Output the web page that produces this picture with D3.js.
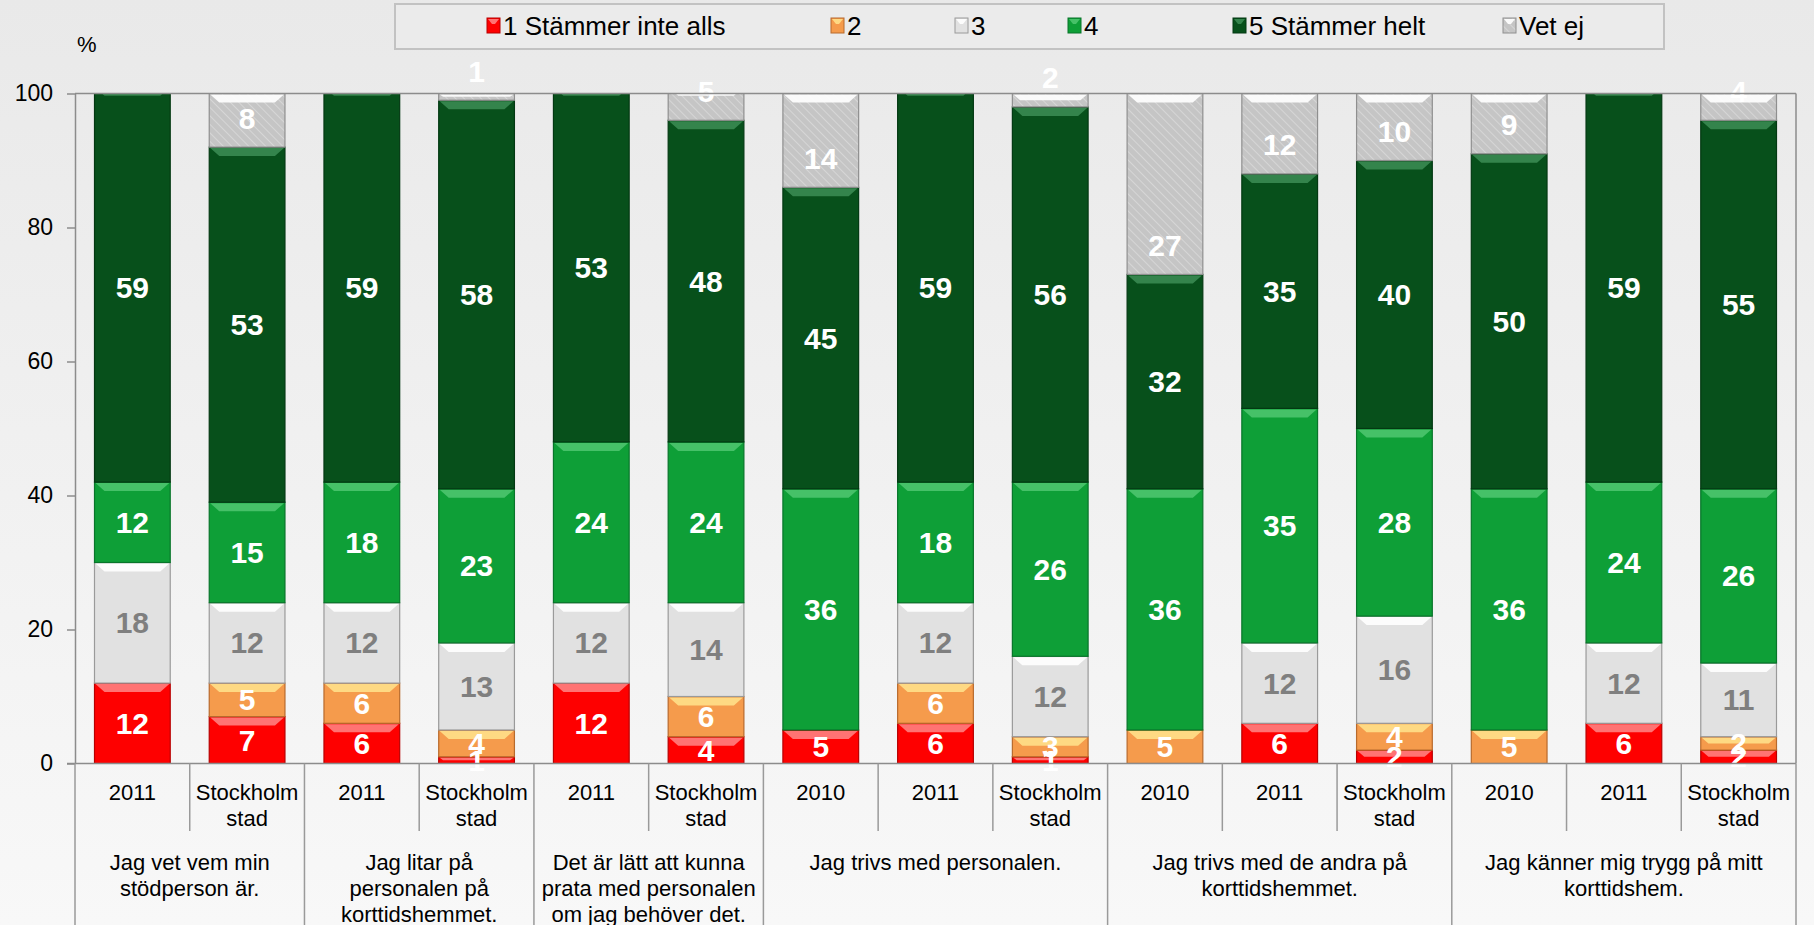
<!DOCTYPE html>
<html>
<head>
<meta charset="utf-8">
<script src="https://cdn.jsdelivr.net/npm/d3@7/dist/d3.min.js"></script>
<style>
  html, body { margin: 0; padding: 0; background: #f2f2f2; }
  svg { display: block; font-family: "Liberation Sans", Arial, sans-serif; }
</style>
</head>
<body>
<svg id="chart" width="1814" height="925"></svg>
<script>
// ---- DATA ----
const categories = ["2011", "Stockholm stad", "2011", "Stockholm stad", "2011", "Stockholm stad",
  "2010", "2011", "Stockholm stad", "2010", "2011", "Stockholm stad", "2010", "2011", "Stockholm stad"];
const groupLabels = [
  ["Jag vet vem min", "stödperson är."],
  ["Jag litar på", "personalen på", "korttidshemmet."],
  ["Det är lätt att kunna", "prata med personalen", "om jag behöver det."],
  ["Jag trivs med personalen."],
  ["Jag trivs med de andra på", "korttidshemmet."],
  ["Jag känner mig trygg på mitt", "korttidshem."]
];
const groupSizes = [2, 2, 2, 3, 3, 3];
const seriesNames = ["1 Stämmer inte alls", "2", "3", "4", "5 Stämmer helt", "Vet ej"];
const s1 = [12, 7, 6, 1, 12, 4, 5, 6, 1, 0, 6, 2, 0, 6, 2];
const s2 = [0, 5, 6, 4, 0, 6, 0, 6, 3, 5, 0, 4, 5, 0, 2];
const s3 = [18, 12, 12, 13, 12, 14, 0, 12, 12, 0, 12, 16, 0, 12, 11];
const s4 = [12, 15, 18, 23, 24, 24, 36, 18, 26, 36, 35, 28, 36, 24, 26];
const s5 = [59, 53, 59, 58, 53, 48, 45, 59, 56, 32, 35, 40, 50, 59, 55];
const s6 = [0, 8, 0, 1, 0, 5, 14, 0, 2, 27, 12, 10, 9, 0, 4];
const yTicks = [0, 20, 40, 60, 80, 100];

// ---- STYLE ----
const styles = [
  { fill: "#fe0000", top: "#ff8080", stroke: "#b80000", label: "#ffffff" },
  { fill: "#f59b4c", top: "#ffe08a", stroke: "#b86a2c", label: "#ffffff" },
  { fill: "#e1e1e1", top: "#ffffff", stroke: "#9a9a9a", label: "#7f7f7f" },
  { fill: "#0e9f37", top: "#4cc46e", stroke: "#08752a", label: "#ffffff" },
  { fill: "#07501b", top: "#3a8a52", stroke: "#033812", label: "#ffffff" },
  { fill: "url(#hatch)", top: "#ffffff", stroke: "#8f8f8f", label: "#ffffff" }
];

const W = 1814, H = 925;
const svg = d3.select("#chart");
const defs = svg.append("defs");

const bg = defs.append("linearGradient").attr("id", "bg").attr("x1", 0).attr("y1", 0).attr("x2", 0).attr("y2", 1);
bg.append("stop").attr("offset", "0%").attr("stop-color", "#e9e9e9");
bg.append("stop").attr("offset", "100%").attr("stop-color", "#f8f8f8");
svg.append("rect").attr("width", W).attr("height", H).attr("fill", "url(#bg)");

const pat = defs.append("pattern").attr("id", "hatch").attr("patternUnits", "userSpaceOnUse")
  .attr("width", 6).attr("height", 6).attr("patternTransform", "rotate(-45)");
pat.append("rect").attr("width", 6).attr("height", 6).attr("fill", "#c5c5c5");
pat.append("line").attr("x1", 0).attr("y1", 0).attr("x2", 0).attr("y2", 6)
  .attr("stroke", "#d6d6d6").attr("stroke-width", 2);

// ---- SCALES ----
const left = 75, right = 1796, y0px = 763.5, y100px = 93.5;
const x = d3.scaleBand().domain(d3.range(categories.length)).range([left, right])
  .paddingInner(0.34).paddingOuter(0.17);
const y = d3.scaleLinear().domain([0, 100]).range([y0px, y100px]);
const step = x.step();

const rows = categories.map((c, i) => ({ i, v: [s1[i], s2[i], s3[i], s4[i], s5[i], s6[i]] }));
const stack = d3.stack().keys(d3.range(6)).value((d, k) => d.v[k]);
const stacked = stack(rows);

defs.append("clipPath").attr("id", "plotclip").append("rect")
  .attr("x", left).attr("y", y(100)).attr("width", right - left).attr("height", y(0) - y(100));

// ---- BARS ----
const barsG = svg.append("g").attr("clip-path", "url(#plotclip)");
const labels = [];
stacked.forEach((layer, k) => {
  const st = styles[k];
  layer.forEach((seg, i) => {
    const val = seg.data.v[k];
    if (val <= 0) return;
    const x0 = x(i), w = x.bandwidth();
    const yt = y(seg[1]), yb = y(seg[0]);
    const h = yb - yt;
    const g = barsG.append("g");
    g.append("rect").attr("x", x0).attr("y", yt).attr("width", w).attr("height", h)
      .attr("fill", st.fill).attr("stroke", st.stroke).attr("stroke-width", 1.2);
    const b = Math.min(9, h / 2);
    g.append("polygon")
      .attr("points", [[x0 + 1, yt + 1], [x0 + w - 1, yt + 1], [x0 + w - 1 - b, yt + b], [x0 + 1 + b, yt + b]].map(p => p.join(",")).join(" "))
      .attr("fill", st.top).attr("opacity", 0.9);
    // "Vet ej" labels sit at the inside base of their segment, others at the visible centre
    const ly = k === 5 ? yb - 29 : (y(Math.min(seg[1], 100)) + yb) / 2;
    labels.push({ x: x0 + w / 2, y: ly, text: val, color: st.label });
  });
});

// labels (not clipped)
svg.append("g").selectAll("text").data(labels).join("text")
  .attr("x", d => d.x).attr("y", d => d.y)
  .attr("text-anchor", "middle").attr("dominant-baseline", "central")
  .attr("font-size", 30).attr("font-weight", "bold")
  .attr("fill", d => d.color).text(d => d.text);

// ---- FRAME ----
svg.append("line").attr("x1", left).attr("x2", right).attr("y1", y(100)).attr("y2", y(100))
  .attr("stroke", "#8c8c8c").attr("stroke-width", 1.5);
svg.append("line").attr("x1", right).attr("x2", right).attr("y1", y(100)).attr("y2", y(0))
  .attr("stroke", "#8c8c8c").attr("stroke-width", 1.5);

// ---- Y AXIS ----
const yAxis = svg.append("g").attr("transform", `translate(${left},0)`)
  .call(d3.axisLeft(y).tickValues(yTicks).tickSize(8).tickPadding(14).tickSizeOuter(0));
yAxis.select(".domain").attr("stroke", "#8c8c8c").attr("stroke-width", 1.5);
yAxis.selectAll(".tick line").attr("stroke", "#8c8c8c").attr("stroke-width", 1.5);
yAxis.selectAll(".tick text").attr("font-size", 23).attr("fill", "#000")
  .attr("font-family", "Liberation Sans, Arial, sans-serif");

svg.append("text").attr("x", 77).attr("y", 44).attr("font-size", 22).attr("dominant-baseline", "central")
  .attr("fill", "#000").text("%");

// ---- X AXIS (two-level) ----
svg.append("line").attr("x1", left - 8).attr("x2", right).attr("y1", y(0)).attr("y2", y(0))
  .attr("stroke", "#8c8c8c").attr("stroke-width", 1.5);

const groupBounds = [0];
groupSizes.forEach(s => groupBounds.push(groupBounds[groupBounds.length - 1] + s));
const sepG = svg.append("g");
for (let i = 0; i <= categories.length; i++) {
  const xx = left + i * step;
  const long = groupBounds.includes(i);
  sepG.append("line").attr("x1", xx).attr("x2", xx).attr("y1", y(0))
    .attr("y2", long ? H : 831).attr("stroke", "#9a9a9a").attr("stroke-width", 1.5);
}

const catG = svg.append("g");
categories.forEach((c, i) => {
  const cx = x(i) + x.bandwidth() / 2;
  const lines = c.split(" ");
  lines.forEach((ln, j) => {
    catG.append("text").attr("x", cx).attr("y", 792 + j * 26.5)
      .attr("text-anchor", "middle").attr("dominant-baseline", "central")
      .attr("font-size", 22).attr("fill", "#000").text(ln);
  });
});

const grpG = svg.append("g");
groupLabels.forEach((lines, gi) => {
  const cx = left + (groupBounds[gi] + groupBounds[gi + 1]) / 2 * step;
  lines.forEach((ln, j) => {
    grpG.append("text").attr("x", cx).attr("y", 862 + j * 26)
      .attr("text-anchor", "middle").attr("dominant-baseline", "central")
      .attr("font-size", 22).attr("fill", "#000").text(ln);
  });
});

// ---- LEGEND ----
const leg = svg.append("g");
leg.append("rect").attr("x", 395).attr("y", 4).attr("width", 1269).attr("height", 45)
  .attr("fill", "#ebebeb").attr("stroke", "#c2c2c2").attr("stroke-width", 2);
const legX = [487, 831, 955, 1068, 1233, 1503];
seriesNames.forEach((name, k) => {
  const st = styles[k];
  const gx = legX[k];
  leg.append("rect").attr("x", gx).attr("y", 18).attr("width", 13).attr("height", 15)
    .attr("fill", st.fill).attr("stroke", st.stroke).attr("stroke-width", 1);
  leg.append("polygon").attr("points", `${gx+1},19 ${gx+12},19 ${gx+8},24 ${gx+5},24`)
    .attr("fill", st.top).attr("opacity", 0.9);
  leg.append("text").attr("x", gx + 16).attr("y", 26).attr("dominant-baseline", "central")
    .attr("font-size", 26).attr("fill", "#000").text(name);
});
</script>
</body>
</html>
